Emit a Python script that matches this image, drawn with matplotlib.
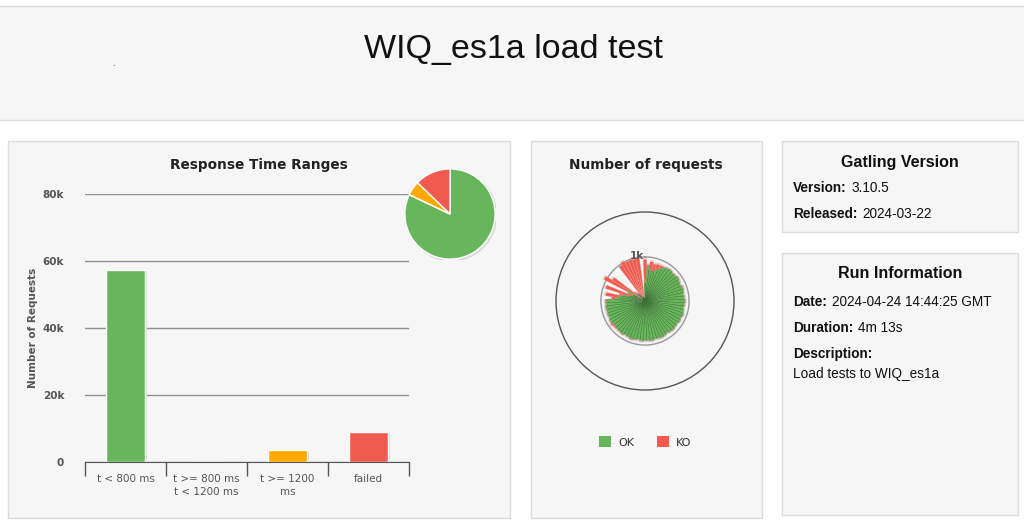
import matplotlib
matplotlib.use('Agg')
import matplotlib.pyplot as plt
from matplotlib.patches import Rectangle, Circle
import numpy as np

W, H = 1024, 524

# Response time ranges (bar + pie)
range_labels = ['t < 800 ms', 't >= 800 ms\nt < 1200 ms', 't >= 1200\nms', 'failed']
range_counts = [57200, 0, 3600, 8900]
range_colors = ['#68b65c', '#ffdd00', '#ffa900', '#f15b4f']

# Number of requests (polar, one bar per request, clockwise from north)
req_ok = [420, 820, 720, 700, 760, 820, 880, 900, 910, 890, 900, 920,
          900, 880, 910, 900, 890, 900, 910, 900, 890, 900, 920, 900,
          910, 890, 900, 910, 900, 880, 900, 910, 900, 890, 910, 900,
          900, 910, 890, 900, 920, 900, 890, 910, 900, 900, 880, 900,
          910, 890, 900, 880, 900, 890, 880, 700, 600, 520, 380, 300,
          450, 100, 250, 220, 200, 150, 120, 100, 130, 110, 150, 80]
req_ko = [520, 0, 180, 160, 120, 60, 0, 0, 0, 0, 0, 0,
          0, 0, 0, 0, 0, 0, 0, 0, 0, 0, 0, 0,
          0, 0, 0, 0, 0, 0, 0, 0, 0, 0, 0, 0,
          0, 0, 0, 0, 0, 0, 0, 0, 0, 0, 30, 30,
          0, 0, 0, 20, 0, 0, 20, 60, 300, 80, 560, 120,
          600, 780, 60, 40, 30, 820, 900, 880, 860, 870, 830, 60]

# Info boxes
version_rows = [('Version:', '3.10.5'), ('Released:', '2024-03-22')]
run_rows = [('Date:', '2024-04-24 14:44:25 GMT'), ('Duration:', '4m 13s')]
description = 'Load tests to WIQ_es1a'
page_title = 'WIQ_es1a load test'

GREEN, RED = '#68b65c', '#f15b4f'
HTML_FONT = 'Liberation Sans'
CHART_FONT = 'DejaVu Sans'

fig = plt.figure(figsize=(W / 100, H / 100), dpi=100, facecolor='white')


def fx(x):
    return x / W


def fy(y):
    return 1 - y / H


def panel(x0, y0, x1, y1):
    fig.patches.append(Rectangle((fx(x0), fy(y1)), (x1 - x0) / W, (y1 - y0) / H,
                                 transform=fig.transFigure, facecolor='#f6f6f6',
                                 edgecolor='#dcdcdc', lw=1, zorder=-5))


def ax_px(x0, y0, x1, y1, **kw):
    return fig.add_axes([fx(x0), fy(y1), (x1 - x0) / W, (y1 - y0) / H], **kw)


def ftext(x, y, s, **kw):
    return fig.text(fx(x), fy(y), s, **kw)


# header + panels
panel(-2, 6, W + 2, 120)
panel(8, 141, 510, 518)
panel(531, 141, 762, 518)
panel(782, 141, 1018, 232)
panel(782, 253, 1018, 515)

ftext(513, 58, page_title, ha='center', va='baseline', fontsize=24.5,
      family=HTML_FONT, color='#111111')
ftext(113, 66, '.', ha='center', va='baseline', fontsize=6, color='#222222')

# ---- Response Time Ranges: bars
ax = ax_px(85, 194, 409, 462)
ax.patch.set_alpha(0)
x = np.arange(len(range_counts))
ax.bar(x + 0.03, range_counts, width=0.48, bottom=-250, color='#d5d5d5', zorder=2)
ax.bar(x, range_counts, width=0.48, color=range_colors, edgecolor='white', lw=1, zorder=3)
ax.set_xlim(-0.5, len(range_counts) - 0.5)
ax.set_ylim(0, 80000)
ax.set_yticks([0, 20000, 40000, 60000, 80000])
ax.set_yticklabels(['0', '20k', '40k', '60k', '80k'])
ax.yaxis.grid(True, color='#8f8f8f', lw=1)
ax.set_axisbelow(True)
for s in ['top', 'right', 'left']:
    ax.spines[s].set_visible(False)
ax.spines['bottom'].set_color('#555555')
ax.spines['bottom'].set_zorder(4)
ax.tick_params(axis='y', length=0, pad=15, labelsize=7.5, labelcolor='#555555')
for lbl in ax.get_yticklabels():
    lbl.set_fontweight('bold')
    lbl.set_family(CHART_FONT)
ax.set_xticks(x)
ax.set_xticklabels(range_labels, fontsize=7.5, color='#555555', family=CHART_FONT,
                   linespacing=1.35)
ax.set_xticks(np.arange(-0.5, len(range_counts)), minor=True)
ax.tick_params(axis='x', which='major', length=0, pad=9)
ax.tick_params(axis='x', which='minor', length=10, color='#555555', width=1)
ftext(33, 328, 'Number of Requests', rotation=90, ha='center', va='center',
      fontsize=7.5, fontweight='bold', color='#555555', family=CHART_FONT)
ftext(259, 169, 'Response Time Ranges', ha='center', va='baseline', fontsize=9.8,
      fontweight='bold', color='#222222', family=CHART_FONT)

# ---- pie
pax = ax_px(404, 168, 496, 260)
pax.add_patch(Circle((0.03, -0.03), 1.01, color='#000000', alpha=0.07, zorder=0))
pax.pie(range_counts, colors=range_colors, startangle=90,
        counterclock=False, wedgeprops=dict(edgecolor='white', lw=1))
pax.set_xlim(-1.02, 1.02)
pax.set_ylim(-1.02, 1.02)
pax.set_aspect('equal')
pax.axis('off')

# ---- Number of requests: polar
ftext(646, 169, 'Number of requests', ha='center', va='baseline', fontsize=9.8,
      fontweight='bold', color='#222222', family=CHART_FONT)
rax = ax_px(556, 212, 734, 390, projection='polar')
rax.patch.set_alpha(0)
n = len(req_ok)
theta = np.arange(n) * 2 * np.pi / n
wd = 2 * np.pi / n
tot = np.array(req_ok) + np.array(req_ko)
rax.set_theta_zero_location('N')
rax.set_theta_direction(-1)
rax.bar(theta, tot + 40, width=wd, color='#9a9a9a', alpha=0.35, lw=0, zorder=2)
rax.bar(theta, req_ok, width=wd, color=GREEN, edgecolor='#3a6e34', lw=0.3, zorder=3)
rax.bar(theta, req_ko, width=wd, bottom=req_ok, color=RED, edgecolor='#f7a59e',
        lw=0.2, zorder=3)
rax.set_ylim(0, 2020)
rax.set_thetagrids([])
rax.set_rgrids([1000], labels=[''])
rax.tick_params(length=0)
rax.yaxis.grid(True, color='#999999', lw=1)
rax.xaxis.grid(False)
for s in ['start', 'end', 'inner', 'polar']:
    rax.spines[s].set_visible(False)
rax.add_patch(Circle((0.5, 0.5), 0.5, transform=rax.transAxes, fill=False,
                     edgecolor='#555555', lw=1, clip_on=False, zorder=1))
ftext(637, 259, '1k', ha='center', va='baseline', fontsize=7.5, fontweight='bold',
      color='#555555', family=CHART_FONT)
ftext(639, 302, '0', ha='center', va='baseline', fontsize=7, color='#8a8a8a',
      family=CHART_FONT)

# legend
for lx, name, col in [(599, 'OK', GREEN), (657, 'KO', RED)]:
    fig.patches.append(Rectangle((fx(lx), fy(447)), 12 / W, 11 / H,
                                 transform=fig.transFigure, facecolor=col,
                                 edgecolor='none', zorder=2))
    ftext(lx + 19, 446, name, ha='left', va='baseline', fontsize=8,
          color='#333333', family=CHART_FONT)

# ---- info boxes
ftext(900, 166.7, 'Gatling Version', ha='center', va='baseline', fontsize=11.5,
      fontweight='bold', family=HTML_FONT, color='#111111')
ftext(900, 278.3, 'Run Information', ha='center', va='baseline', fontsize=11.5,
      fontweight='bold', family=HTML_FONT, color='#111111')

renderer = fig.canvas.get_renderer()


def info_row(y, label, value):
    t = ftext(793, y, label, ha='left', va='baseline', fontsize=9.8,
              fontweight='bold', family=HTML_FONT, color='#111111')
    bb = t.get_window_extent(renderer)
    ftext(bb.x1 + 5, y, value, ha='left', va='baseline', fontsize=9.8,
          family=HTML_FONT, color='#111111')


for (label, value), y in zip(version_rows, [192, 218.3]):
    info_row(y, label, value)
for (label, value), y in zip(run_rows, [305.7, 331.7]):
    info_row(y, label, value)
ftext(793, 357.7, 'Description:', ha='left', va='baseline', fontsize=9.8,
      fontweight='bold', family=HTML_FONT, color='#111111')
ftext(793, 377.7, description, ha='left', va='baseline', fontsize=9.8,
      family=HTML_FONT, color='#111111')

fig.savefig('out.png', dpi=100, facecolor='white')
